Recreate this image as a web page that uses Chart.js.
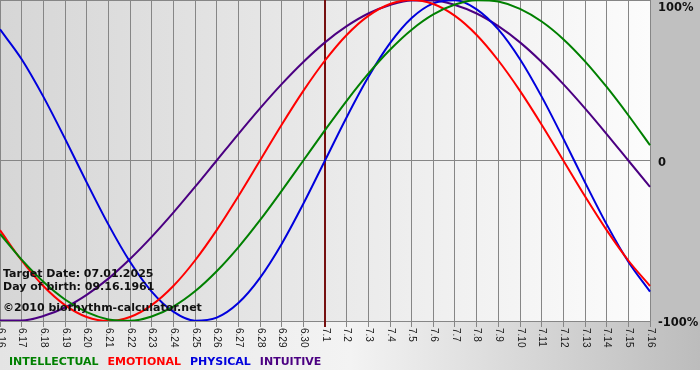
<!DOCTYPE html>
<html><head><meta charset="utf-8">
<script src="https://cdn.jsdelivr.net/npm/chart.js@4/dist/chart.umd.min.js"></script>
<style>html,body{margin:0;padding:0;background:#fff;}canvas{display:block;}</style>
</head><body>
<canvas id="c" width="700" height="380"></canvas>
<script>
// ---- data ----
const dayLabels = ['6.16','6.17','6.18','6.19','6.20','6.21','6.22','6.23','6.24','6.25','6.26','6.27','6.28','6.29','6.30',
                   '7.1','7.2','7.3','7.4','7.5','7.6','7.7','7.8','7.9','7.10','7.11','7.12','7.13','7.14','7.15','7.16'];
const intellectual = [-45.8,-61.8,-75.6,-86.6,-94.5,-99.0,-99.9,-97.2,-91.0,-81.5,-69.0,-54.1,-37.2,-18.9,0,
                      18.9,37.2,54.1,69.0,81.5,91.0,97.2,99.9,99.0,94.5,86.6,75.6,61.8,45.8,28.2,9.5];
const emotional = [-43.4,-62.3,-78.2,-90.1,-97.5,-100,-97.5,-90.1,-78.2,-62.3,-43.4,-22.3,0,22.3,43.4,
                   62.3,78.2,90.1,97.5,100,97.5,90.1,78.2,62.3,43.4,22.3,0,-22.3,-43.4,-62.3,-78.2];
const physical = [81.7,63.1,39.8,13.6,-13.6,-39.8,-63.1,-81.7,-94.2,-99.8,-97.9,-88.8,-73.1,-52.0,-27.0,
                  0,27.0,52.0,73.1,88.8,97.9,99.8,94.2,81.7,63.1,39.8,13.6,-13.6,-39.8,-63.1,-81.7];
const intuitive = [-99.7,-99.7,-96.9,-91.6,-83.7,-73.6,-61.4,-47.6,-32.5,-16.5,0,16.5,32.5,47.6,61.4,
                   73.6,83.7,91.6,96.9,99.7,99.7,96.9,91.6,83.7,73.6,61.4,47.6,32.5,16.5,0,-16.5];
const seriesNames = ['INTELLECTUAL','EMOTIONAL','PHYSICAL','INTUITIVE'];
const yTickValues = [100, 0, -100];
const yTickLabels = ['100%','0','-100%'];
const targetDayLabel = '7.1';
const infoLines = ['Target Date: 07.01.2025','Day of birth: 09.16.1961','\u00A92010 biorhythm-calculator.net'];

// ---- styles ----
const seriesColors = ['#008000','#ff0000','#0000dd','#4b0082'];
const seriesData = [intellectual, emotional, physical, intuitive];
const GRID = '#868686';

const decor = {
  id: 'decor',
  beforeDraw(chart) {
    const {ctx, chartArea: a, width, height} = chart;
    ctx.save();
    ctx.fillStyle = '#ffffff';
    ctx.fillRect(0, 0, width, height);
    let g = ctx.createLinearGradient(0, 0, width, 0);
    g.addColorStop(0, '#e4e4e4');
    g.addColorStop(0.5, '#f3f3f3');
    g.addColorStop(1, '#bcbcbc');
    ctx.fillStyle = g;
    ctx.fillRect(0, a.bottom, width, 49);
    ctx.fillStyle = '#c0c0c0';
    ctx.fillRect(a.right, 0, width - a.right, a.bottom);
    g = ctx.createLinearGradient(a.left, 0, a.right, 0);
    g.addColorStop(0, '#d6d6d6');
    g.addColorStop(1, '#fcfcfc');
    ctx.fillStyle = g;
    ctx.fillRect(a.left, a.top, a.right - a.left, a.bottom - a.top);
    ctx.restore();
  },
  beforeDatasetsDraw(chart) {
    const {ctx, chartArea: a, scales: {x}} = chart;
    const px = Math.round(x.getPixelForValue(dayLabels.indexOf(targetDayLabel)));
    ctx.save();
    ctx.fillStyle = '#761010';
    ctx.fillRect(px - 1, a.top, 2, a.bottom - a.top + 6);
    ctx.restore();
  },
  afterDraw(chart) {
    const {ctx, chartArea: a, scales: {x, y}} = chart;
    ctx.save();
    // x tick labels, rotated clockwise (reading downward)
    ctx.fillStyle = '#1a1a1a';
    ctx.font = '10px "Liberation Sans"';
    ctx.textAlign = 'left';
    ctx.textBaseline = 'middle';
    dayLabels.forEach((lab, i) => {
      const px = x.getPixelForTick(i);
      ctx.save();
      ctx.translate(px + 0.5, a.bottom + 7);
      ctx.rotate(Math.PI / 2);
      ctx.fillText(lab, 0, 0);
      ctx.restore();
    });
    // y tick labels on the right
    ctx.font = 'bold 11.5px "DejaVu Sans"';
    ctx.textBaseline = 'alphabetic';
    ctx.fillStyle = '#111';
    yTickValues.forEach((v, i) => {
      const py = Math.max(y.getPixelForValue(v) + 5, a.top + 11);
      ctx.fillText(yTickLabels[i], a.right + 8, py);
    });
    ctx.restore();
  },
  afterDatasetsDraw(chart) {
    const {ctx, chartArea: a} = chart;
    ctx.save();
    ctx.font = 'bold 11px "DejaVu Sans"';
    ctx.fillStyle = '#111';
    ctx.textAlign = 'left';
    ctx.textBaseline = 'alphabetic';
    const ys = [a.bottom - 44, a.bottom - 31, a.bottom - 10];
    infoLines.forEach((t, i) => ctx.fillText(t, 3, ys[i]));
    ctx.restore();
  }
};

new Chart(document.getElementById('c'), {
  type: 'line',
  data: {
    labels: dayLabels,
    datasets: seriesNames.map((name, i) => ({
      label: name,
      data: seriesData[i],
      borderColor: seriesColors[i],
      backgroundColor: seriesColors[i],
      borderWidth: 2,
      pointRadius: 0,
      fill: false,
      cubicInterpolationMode: 'monotone'
    }))
  },
  options: {
    responsive: false,
    devicePixelRatio: 1,
    animation: false,
    events: [],
    layout: {padding: {left: 0, right: 0, top: 0, bottom: 2.5}},
    plugins: {
      tooltip: {enabled: false},
      title: {display: false},
      legend: {
        display: true,
        position: 'bottom',
        align: 'start',
        labels: {
          boxWidth: 0,
          boxHeight: 0,
          padding: 3.5,
          font: {family: 'DejaVu Sans', size: 11, weight: 'bold'},
          generateLabels(chart) {
            return chart.data.datasets.map((ds, i) => ({
              text: ds.label,
              fontColor: ds.borderColor,
              fillStyle: 'rgba(0,0,0,0)',
              strokeStyle: 'rgba(0,0,0,0)',
              lineWidth: 0,
              hidden: false,
              datasetIndex: i
            }));
          }
        }
      }
    },
    scales: {
      x: {
        type: 'category',
        offset: false,
        grid: {color: GRID, lineWidth: 1, drawTicks: true, tickLength: 6, tickColor: GRID},
        border: {color: GRID},
        ticks: {display: false},
        afterFit(scale) { scale.height = 32; }
      },
      y: {
        position: 'right',
        min: -100,
        max: 100,
        afterBuildTicks(scale) { scale.ticks = yTickValues.map(v => ({value: v})); },
        grid: {color: GRID, lineWidth: 1, drawTicks: false},
        border: {color: GRID},
        ticks: {display: false},
        afterFit(scale) { scale.width = 50; }
      }
    }
  },
  plugins: [decor]
});
</script>
</body></html>
